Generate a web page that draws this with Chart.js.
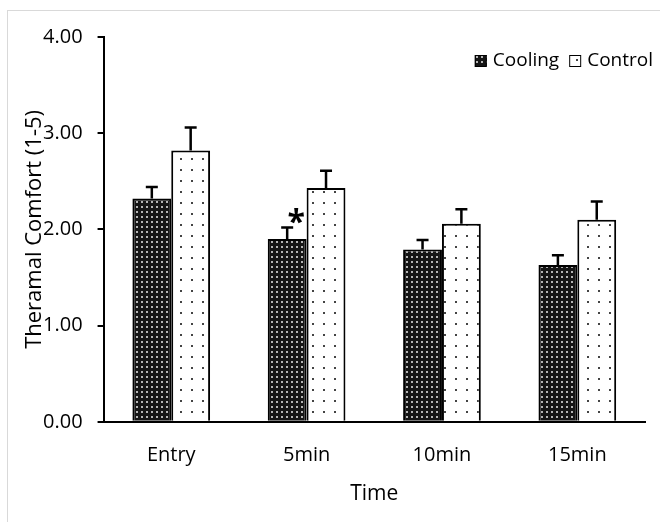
<!DOCTYPE html>
<html>
<head>
<meta charset="utf-8">
<script src="https://cdn.jsdelivr.net/npm/chart.js@4/dist/chart.umd.min.js"></script>
<style>
  html, body { margin: 0; padding: 0; background: #fff; }
  #wrap { width: 660px; height: 522px; }
</style>
</head>
<body>
<div id="wrap"><canvas id="chart" width="660" height="522"></canvas></div>
<script>
// values
const timeLabels = ['Entry', '5min', '10min', '15min'];
const cooling = [2.32, 1.90, 1.79, 1.63];
const coolingErr = [0.12, 0.12, 0.10, 0.10];
const control = [2.82, 2.43, 2.06, 2.10];
const controlErr = [0.24, 0.18, 0.15, 0.19];
const starIndex = 1; // significant point on cooling series
const yTitle = 'Theramal Comfort (1-5)';

const FONT = '"Open Sans", "Liberation Sans", sans-serif';

function makePattern(size, bg, dot, dots) {
  const c = document.createElement('canvas');
  c.width = size; c.height = size;
  const g = c.getContext('2d');
  g.fillStyle = bg;
  g.fillRect(0, 0, size, size);
  g.fillStyle = dot;
  dots.forEach(d => g.fillRect(d[0], d[1], d[2], d[2]));
  return g.createPattern(c, 'repeat');
}

const ctx = document.getElementById('chart').getContext('2d');
const coolingFill = makePattern(5, '#151515', '#b5b5b5', [[1, 1, 2]]);
const controlFill = makePattern(11, '#ffffff', '#444444', [[4, 4, 2]]);

const errors = [coolingErr, controlErr];

const paperPlugin = {
  id: 'paper',
  beforeDraw(chart) {
    const c = chart.ctx;
    c.save();
    c.fillStyle = '#fff';
    c.fillRect(0, 0, chart.width, chart.height);
    c.strokeStyle = '#d9d9d9';
    c.lineWidth = 1;
    c.strokeRect(7.5, 10.5, 700, 600);
    c.restore();
  }
};

// y title sits over the tick labels in the original, so it is drawn here
const yTitlePlugin = {
  id: 'yTitle',
  afterDraw(chart) {
    const c = chart.ctx;
    const area = chart.chartArea;
    c.save();
    c.translate(35, (area.top + area.bottom) / 2);
    c.rotate(-Math.PI / 2);
    c.font = '22px ' + FONT;
    c.fillStyle = '#000';
    c.textAlign = 'center';
    c.textBaseline = 'middle';
    c.fillText(yTitle, 0, 0);
    c.restore();
  }
};

const errorBarPlugin = {
  id: 'errorBars',
  afterDatasetsDraw(chart) {
    const c = chart.ctx;
    const yScale = chart.scales.y;
    c.save();
    c.strokeStyle = '#000';
    c.lineWidth = 2.5;
    chart.data.datasets.forEach((ds, i) => {
      const meta = chart.getDatasetMeta(i);
      meta.data.forEach((bar, j) => {
        const top = yScale.getPixelForValue(ds.data[j] + errors[i][j]);
        c.beginPath();
        c.moveTo(bar.x, bar.y);
        c.lineTo(bar.x, top);
        c.moveTo(bar.x - 6, top);
        c.lineTo(bar.x + 6, top);
        c.stroke();
      });
    });
    // asterisk above the 5min cooling bar
    const bar = chart.getDatasetMeta(0).data[starIndex];
    const capY = yScale.getPixelForValue(cooling[starIndex] + coolingErr[starIndex]);
    c.fillStyle = '#000';
    c.font = 'bold 32px ' + FONT;
    c.textAlign = 'center';
    c.textBaseline = 'middle';
    c.fillText('*', bar.x + 9, capY - 4);
    c.restore();
  }
};

// legend drawn inside the plot, top right, from the datasets
const insideLegend = {
  id: 'insideLegend',
  afterDraw(chart) {
    const c = chart.ctx;
    const area = chart.chartArea;
    c.save();
    c.font = '19px ' + FONT;
    c.textBaseline = 'middle';
    c.textAlign = 'left';
    const cy = area.top + 24;
    let x = area.right + 8;
    const items = chart.data.datasets.slice().reverse();
    items.forEach(ds => {
      const w = c.measureText(ds.label).width;
      x -= w;
      c.fillStyle = '#000';
      c.fillText(ds.label, x, cy);
      x -= 6 + 12;
      c.fillStyle = ds.backgroundColor;
      c.fillRect(x, cy - 6, 12, 12);
      c.strokeStyle = '#000';
      c.lineWidth = 1;
      c.strokeRect(x + 0.5, cy - 5.5, 11, 11);
      x -= 10;
    });
    c.restore();
  }
};

new Chart(ctx, {
  type: 'bar',
  data: {
    labels: timeLabels,
    datasets: [
      {
        label: 'Cooling',
        data: cooling,
        backgroundColor: coolingFill,
        borderColor: '#000',
        borderWidth: 2,
        categoryPercentage: 0.574,
        barPercentage: 1.0
      },
      {
        label: 'Control',
        data: control,
        backgroundColor: controlFill,
        borderColor: '#000',
        borderWidth: 2,
        categoryPercentage: 0.574,
        barPercentage: 1.0
      }
    ]
  },
  options: {
    responsive: false,
    animation: false,
    layout: { padding: { left: 28, right: 15, top: 37, bottom: 15 } },
    plugins: {
      tooltip: { enabled: false },
      legend: { display: false }
    },
    scales: {
      x: {
        grid: { display: false },
        border: { display: true, color: '#000', width: 2 },
        ticks: { color: '#000', font: { family: FONT, size: 20 }, padding: 13 },
        title: {
          display: true,
          text: 'Time',
          color: '#000',
          font: { family: FONT, size: 21 },
          padding: { top: 2, bottom: 0 }
        }
      },
      y: {
        min: 0,
        max: 4,
        ticks: {
          stepSize: 1,
          color: '#000',
          font: { family: FONT, size: 20 },
          padding: 15,
          callback: v => v.toFixed(2)
        },
        grid: { drawOnChartArea: false, drawTicks: true, tickLength: 6, color: '#000', lineWidth: 2 },
        border: { display: true, color: '#000', width: 2 }
      }
    }
  },
  plugins: [paperPlugin, errorBarPlugin, insideLegend, yTitlePlugin]
});
</script>
</body>
</html>
